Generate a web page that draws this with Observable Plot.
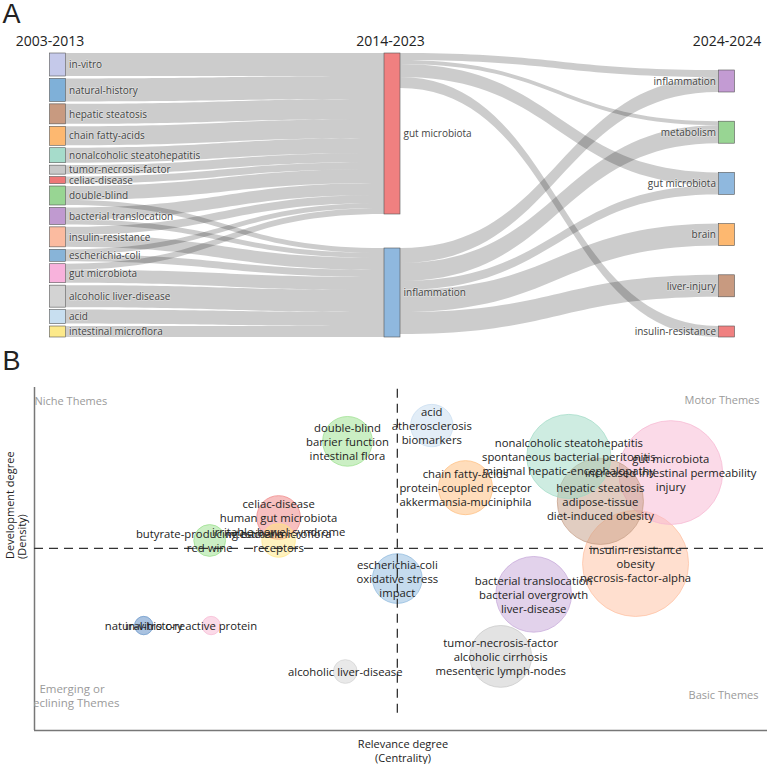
<!DOCTYPE html>
<html><head><meta charset="utf-8">
<script src="https://cdn.jsdelivr.net/npm/d3@7"></script>
<script src="https://cdn.jsdelivr.net/npm/@observablehq/plot@0.6"></script>
<style>
body{margin:0;background:#fff;}
#chart{width:767px;height:764px;position:relative;font-family:"Open Sans",sans-serif;}
#chart svg{display:block;}
</style></head><body><div id="chart"></div>
<script>
// ---------- Panel A data (thematic evolution) ----------
const periods = ["2003-2013", "2014-2023", "2024-2024"];
const themes2003 = ["in-vitro","natural-history","hepatic steatosis","chain fatty-acids","nonalcoholic steatohepatitis","tumor-necrosis-factor","celiac-disease","double-blind","bacterial translocation","insulin-resistance","escherichia-coli","gut microbiota","alcoholic liver-disease","acid","intestinal microflora"];
const colors2003 = ["#c5c9ea","#7fb0d8","#c89a80","#fdb870","#a6dccb","#c8c8c8","#ee7777","#98d593","#c09ad0","#fbbba0","#88b4d8","#f8b2dc","#d3d3d3","#c8dff0","#fce98a"];
const themes2014 = ["gut microbiota", "inflammation"];
const colors2014 = ["#f08080", "#8fb8de"];
const themes2024 = ["inflammation","metabolism","gut microbiota","brain","liver-injury","insulin-resistance"];
const colors2024 = ["#c39bd3","#98d593","#8fb8de","#fdb870","#c89a80","#f08080"];
const flow2003ToGutMicrobiota = [23,23,20,19,15,9,7,14,12,8,5,6,0,0,0];
const flow2003ToInflammation  = [0,0,0,0,0,0,0,5,5,12,7,13,22,14,11];
const flowGutMicrobiotaTo2024 = [7,4,13,0,0,11];
const flowInflammationTo2024  = [15,18,9,22,22,0];

// ---------- Panel B data (thematic map) ----------
const bubbleLabels = [
  "double-blind\nbarrier function\nintestinal flora",
  "acid\natherosclerosis\nbiomarkers",
  "chain fatty-acids\nprotein-coupled receptor\nakkermansia-muciniphila",
  "nonalcoholic steatohepatitis\nspontaneous bacterial peritonitis\nminimal hepatic-encephalopathy",
  "gut microbiota\nincreased intestinal permeability\ninjury",
  "hepatic steatosis\nadipose-tissue\ndiet-induced obesity",
  "insulin-resistance\nobesity\nnecrosis-factor-alpha",
  "bacterial translocation\nbacterial overgrowth\nliver-disease",
  "escherichia-coli\noxidative stress\nimpact",
  "tumor-necrosis-factor\nalcoholic cirrhosis\nmesenteric lymph-nodes",
  "alcoholic liver-disease",
  "in-vitro",
  "natural-history",
  "c-reactive protein",
  "celiac-disease\nhuman gut microbiota\nirritable-bowel-syndrome",
  "butyrate-producing bacteria\nred wine",
  "intestinal microflora\nreceptors"
];
const centrality = [4.27,5.42,5.88,7.29,8.68,7.72,8.20,6.81,4.95,6.36,4.24,1.49,1.49,2.41,3.33,2.39,3.33];
const density    = [8.43,8.89,7.08,7.99,7.52,6.68,4.87,3.97,4.43,2.16,1.72,3.06,3.06,3.06,6.21,5.54,5.54];
const frequency  = [22,16,26,63,96,66,100,51,22,34,5,3,3,3,17,9,10];
const bubbleColors = ["#98df8a","#c6dbef","#ffbb78","#9edac4","#f7b6d2","#c49c84","#ffbfa0","#c5a5d8","#8cb8dd","#c7c7c7","#d3d3d3","#c5c9ea","#6f9fcc","#f7b6d2","#f08080","#98df8a","#ffe680"];
const centralityMedian = 4.95;
const densityMedian = 5.31;

// ---------- Sankey layout ----------
const H = 284;            // column height in flow units
const half = 8 / 334.5;   // half node width in column units
const cols = [themes2003, themes2014, themes2024];
const colColors = [colors2003, colors2014, colors2024];
const nodes = [];
const nodeAt = {};
cols.forEach((names, c) => names.forEach((name, i) => {
  const n = {col: c, idx: i, name, color: colColors[c][i], inSum: 0, outSum: 0, ins: [], outs: []};
  nodes.push(n); nodeAt[c + ":" + i] = n;
}));
const links = [];
function addLink(s, t, v) { if (v > 0) { const l = {s, t, v}; links.push(l); s.outs.push(l); t.ins.push(l); s.outSum += v; t.inSum += v; } }
themes2003.forEach((_, i) => {
  addLink(nodeAt["0:" + i], nodeAt["1:0"], flow2003ToGutMicrobiota[i]);
  addLink(nodeAt["0:" + i], nodeAt["1:1"], flow2003ToInflammation[i]);
});
themes2024.forEach((_, j) => {
  addLink(nodeAt["1:0"], nodeAt["2:" + j], flowGutMicrobiotaTo2024[j]);
  addLink(nodeAt["1:1"], nodeAt["2:" + j], flowInflammationTo2024[j]);
});
nodes.forEach(n => n.value = Math.max(n.inSum, n.outSum));
const colTop = [0, 0, 17];
[0, 1, 2].forEach(c => {
  const ns = nodes.filter(n => n.col === c);
  const sum = d3.sum(ns, n => n.value);
  const pad = (H - colTop[c] - sum) / (ns.length - 1);
  let y = colTop[c];
  ns.forEach(n => { n.y0 = y; n.y1 = y + n.value; y = n.y1 + pad; });
});
nodes.forEach(n => {
  let y = n.y0;
  n.outs.sort((a, b) => a.t.y0 - b.t.y0).forEach(l => { l.sy = y; y += l.v; });
  y = n.y0;
  n.ins.sort((a, b) => a.s.y0 - b.s.y0).forEach(l => { l.ty = y; y += l.v; });
});
const ribbon = [];
links.forEach((l, k) => {
  const x0 = l.s.col + half, x1 = l.t.col - half, xm = (x0 + x1) / 2;
  const N = 40;
  for (let i = 0; i <= N; i++) {
    const t = i / N, u = 1 - t;
    const x = x0 * u * u * u + 3 * xm * u * u * t + 3 * xm * u * t * t + x1 * t * t * t;
    const a = u * u * u + 3 * u * u * t;
    const top = l.sy * a + l.ty * (1 - a);
    ribbon.push({k, x, y1: top, y2: top + l.v});
  }
});

const font = "Open Sans";
const panelA = Plot.plot({
  width: 767, height: 345, margin: 0,
  style: {fontFamily: font, background: "#fff"},
  x: {domain: [0, 2], range: [57.5, 726.5], axis: null},
  y: {domain: [0, H], range: [53, 337], axis: null},
  marks: [
    Plot.areaY(ribbon, {x: "x", y1: "y1", y2: "y2", z: "k", fill: "black", fillOpacity: 0.2, curve: "linear"}),
    Plot.rect(nodes, {x1: d => d.col - half, x2: d => d.col + half, y1: "y0", y2: "y1", fill: "color", stroke: "#555", strokeWidth: 0.6}),
    Plot.text(nodes.filter(n => n.col < 2), {x: d => d.col + half, y: d => (d.y0 + d.y1) / 2, text: "name", textAnchor: "start", dx: 3, fontSize: 10, fill: "#444", stroke: "white", strokeWidth: 1.5, strokeOpacity: 0.35}),
    Plot.text(nodes.filter(n => n.col === 2), {x: d => d.col - half, y: d => (d.y0 + d.y1) / 2, text: "name", textAnchor: "end", dx: -3, fontSize: 10, fill: "#444", stroke: "white", strokeWidth: 1.5, strokeOpacity: 0.35}),
    Plot.text([periods[0]], {x: 0, frameAnchor: "top", dy: 41, dx: -8, lineAnchor: "middle", fontSize: 14, fill: "#222"}),
    Plot.text([periods[1]], {x: 1, frameAnchor: "top", dy: 41, dx: -2, lineAnchor: "middle", fontSize: 14, fill: "#222"}),
    Plot.text([periods[2]], {x: 2, frameAnchor: "top", dy: 41, lineAnchor: "middle", fontSize: 14, fill: "#222"}),
    Plot.text(["A"], {frameAnchor: "top-left", dx: 2, dy: 3, lineAnchor: "top", fontSize: 27, fontFamily: "Liberation Sans", fill: "#222"})
  ]
});

const bubbles = bubbleLabels.map((label, i) => ({label, c: centrality[i], d: density[i], f: frequency[i], color: bubbleColors[i]}));
const gray = "#9a9a9a";
const panelB = Plot.plot({
  width: 767, height: 419,
  marginLeft: 34, marginRight: 0, marginTop: 42, marginBottom: 34,
  style: {fontFamily: font, background: "#fff", overflow: "visible"},
  x: {domain: [0, 10], axis: null},
  y: {domain: [0, 10], axis: null},
  r: {type: "sqrt", domain: [0, 100], range: [0, 53]},
  marks: [
    Plot.ruleX([0], {stroke: "#777", strokeWidth: 1.5}),
    Plot.ruleY([0], {stroke: "#777", strokeWidth: 1.5}),
    Plot.dot(bubbles, {x: "c", y: "d", r: "f", fill: "color", fillOpacity: 0.5, stroke: "color", strokeOpacity: 0.7, strokeWidth: 1}),
    Plot.ruleX([centralityMedian], {y1: 0.5, y2: 10, stroke: "#333", strokeWidth: 1.3, strokeDasharray: "9,6"}),
    Plot.ruleY([densityMedian], {stroke: "#333", strokeWidth: 1.3, strokeDasharray: "9,6"}),
    Plot.text(bubbles, {x: "c", y: "d", text: "label", fontSize: 11.3, lineHeight: 1.24, fill: "#222"}),
    Plot.text(["Niche Themes"], {frameAnchor: "top-left", dy: 14, lineAnchor: "middle", fontSize: 11, fill: gray}),
    Plot.text(["Motor Themes"], {frameAnchor: "top-right", dx: -8, dy: 13, lineAnchor: "middle", fontSize: 11, fill: gray}),
    Plot.text(["Basic Themes"], {frameAnchor: "bottom-right", dx: -9, dy: -35, lineAnchor: "middle", fontSize: 11, fill: gray}),
    Plot.text(["Emerging or\nDeclining Themes"], {frameAnchor: "bottom-left", textAnchor: "middle", dx: 37.5, dy: -35, lineAnchor: "middle", lineHeight: 1.25, fontSize: 11.5, fill: gray, clip: "frame"}),
    Plot.text(["Relevance degree\n(Centrality)"], {frameAnchor: "bottom", dx: 2, dy: 20, lineAnchor: "middle", lineHeight: 1.25, fontSize: 11, fill: "#222"}),
    Plot.text(["Development degree\n(Density)"], {frameAnchor: "left", dx: -18, rotate: -90, lineAnchor: "middle", lineHeight: 1.1, fontSize: 11, fill: "#222"}),
    Plot.text(["B"], {frameAnchor: "top-left", dx: -32, dy: -37, lineAnchor: "top", fontSize: 27, fontFamily: "Liberation Sans", fill: "#222"})
  ]
});

const chart = document.getElementById("chart");
chart.append(panelA, panelB);
</script>
</body></html>
